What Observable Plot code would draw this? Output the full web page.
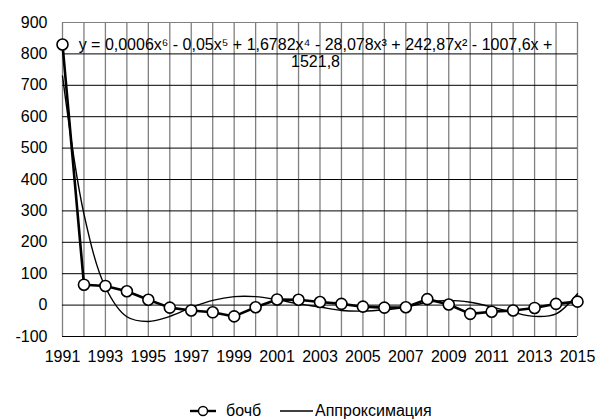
<!DOCTYPE html>
<html><head><meta charset="utf-8">
<script src="https://cdn.jsdelivr.net/npm/d3@7"></script>
<script src="https://cdn.jsdelivr.net/npm/@observablehq/plot@0.6"></script>
<style>
body{margin:0;background:#fff;font-family:"Liberation Sans",Arial,sans-serif;overflow:hidden;}
#chart{width:598px;height:380px;}
#legend{width:598px;height:40px;position:relative;font-size:16px;color:#000;}
.item{position:absolute;top:23px;display:flex;align-items:center;height:16px;line-height:16px;}
.item svg{display:block;}
</style></head><body>
<div id="chart"></div>
<div id="legend"></div>
<script>
const years = [1991,1992,1993,1994,1995,1996,1997,1998,1999,2000,2001,2002,2003,2004,2005,2006,2007,2008,2009,2010,2011,2012,2013,2014,2015];
const bochb = [830,65,61,44,17,-8,-17,-23,-36,-7,18,17,10,4,-5,-8,-7,19,2,-28,-21,-17,-9,4,11];
const approx = [730,290,57,-37,-52,-36,-8,15,27,27,17,4,-6,-17,-19,-15,-7,9,15,9,-6,-23,-36,-28,36];
const yTicks = [-100,0,100,200,300,400,500,600,700,800,900];
const xLabelYears = [1991,1993,1995,1997,1999,2001,2003,2005,2007,2009,2011,2013,2015];
const equation = "y = 0,0006x⁶ - 0,05x⁵ + 1,6782x⁴ - 28,078x³ + 242,87x² - 1007,6x +\n1521,8";
const seriesNames = ["бочб", "Аппроксимация"];

const data = years.map((year, i) => ({year, bochb: bochb[i], approx: approx[i]}));

const chart = Plot.plot({
  width: 598, height: 380,
  marginLeft: 62, marginRight: 21, marginTop: 22, marginBottom: 44,
  style: {fontFamily: "'Liberation Sans', Arial, sans-serif", fontSize: "16px", background: "#fff", color: "#000"},
  x: {domain: [1991, 2015], label: null},
  y: {domain: [-100, 900], label: null},
  marks: [
    Plot.gridX(years, {stroke: "#808080", strokeOpacity: 1, strokeWidth: 1.3}),
    Plot.gridY(yTicks, {stroke: d => d === 900 ? "#808080" : "#000", strokeOpacity: 1, strokeWidth: 1}),
    Plot.axisX(xLabelYears, {tickSize: 0, tickPadding: 14, tickFormat: d => String(d), fontSize: 16, label: null}),
    Plot.axisY(yTicks, {tickSize: 0, tickPadding: 15, tickFormat: d => String(d), fontSize: 16, label: null}),
    Plot.line(data, {x: "year", y: "approx", curve: "catmull-rom", stroke: "#000", strokeWidth: 1.4}),
    Plot.line(data, {x: "year", y: "bochb", stroke: "#000", strokeWidth: 2.6}),
    Plot.dot(data, {x: "year", y: "bochb", r: 5.5, fill: "#fff", stroke: "#000", strokeWidth: 1.6}),
    Plot.text([equation], {frameAnchor: "top", dx: -4.5, dy: 15, fontSize: 16, lineHeight: 1.06, fill: "#000"})
  ]
});
document.getElementById("chart").appendChild(chart);

const legend = document.getElementById("legend");
const it1 = document.createElement("div");
it1.className = "item"; it1.style.left = "190px";
it1.innerHTML = `<svg width="27" height="16"><line x1="0" y1="8" x2="26" y2="8" stroke="#000" stroke-width="2.4"/><circle cx="13" cy="8" r="4.5" fill="#fff" stroke="#000" stroke-width="1.4"/></svg><span style="margin-left:9px">${seriesNames[0]}</span>`;
const it2 = document.createElement("div");
it2.className = "item"; it2.style.left = "280px";
it2.innerHTML = `<svg width="34" height="16"><line x1="0" y1="8" x2="33" y2="8" stroke="#000" stroke-width="1.3"/></svg><span style="margin-left:1px">${seriesNames[1]}</span>`;
legend.appendChild(it1); legend.appendChild(it2);
</script>
</body></html>
